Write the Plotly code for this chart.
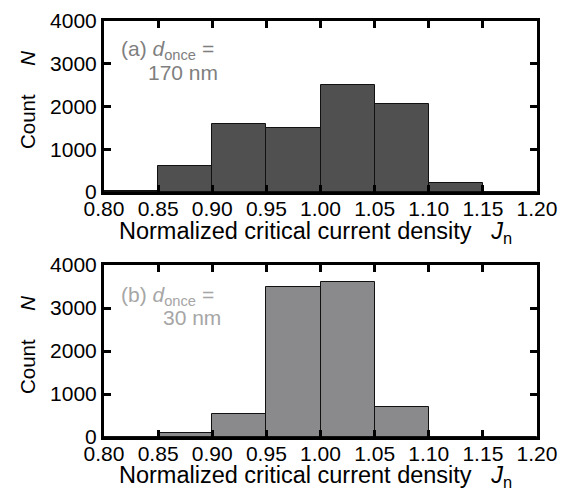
import plotly.graph_objects as go
from plotly.subplots import make_subplots

bin_edges = [0.80, 0.85, 0.90, 0.95, 1.00, 1.05, 1.10, 1.15, 1.20]
counts_a = [15, 620, 1600, 1490, 2500, 2070, 200, 0]
counts_b = [10, 100, 530, 3490, 3600, 700, 0, 0]
x_ticks = [0.80, 0.85, 0.90, 0.95, 1.00, 1.05, 1.10, 1.15, 1.20]
x_tick_labels = ["0.80", "0.85", "0.90", "0.95", "1.00", "1.05", "1.10", "1.15", "1.20"]
y_ticks = [0, 1000, 2000, 3000, 4000]
y_tick_labels = ["0", "1000", "2000", "3000", "4000"]

centers = [(a + b) / 2 for a, b in zip(bin_edges[:-1], bin_edges[1:])]
widths = [b - a for a, b in zip(bin_edges[:-1], bin_edges[1:])]

FONT = "Liberation Sans, Arial, sans-serif"
OFF = 8  # page body margin
W, H = 567 - OFF, 492 - OFF


def px(x):
    return (x - OFF) / W


def py(y):
    return 1 - (y - OFF) / H


fig = make_subplots(rows=2, cols=1)
fig.add_trace(go.Bar(x=centers, y=counts_a, width=widths, marker=dict(color="#505050", line=dict(color="#111111", width=1)), showlegend=False), row=1, col=1)
fig.add_trace(go.Bar(x=centers, y=counts_b, width=widths, marker=dict(color="#8a8a8c", line=dict(color="#111111", width=1)), showlegend=False), row=2, col=1)

xdom = [px(104), px(537)]
ydoms = [[py(192), py(21)], [py(437), py(265)]]

xtitle = "Normalized critical current density\u00a0\u00a0\u00a0<i>J</i><sub>n</sub>"
ytitle = "Count\u00a0\u00a0\u00a0\u00a0\u00a0<i>N</i>"

for i, name in enumerate(["", "2"]):
    fig.layout["xaxis" + name].update(
        domain=xdom, range=[0.8, 1.2], tickmode="array", tickvals=x_ticks, ticktext=x_tick_labels,
        showline=True, linecolor="black", linewidth=3, mirror="ticks",
        ticks="inside", ticklen=7, tickwidth=3, tickcolor="black",
        showgrid=False, zeroline=False, automargin=False, ticklabelstandoff=-4,
        tickfont=dict(family=FONT, size=21, color="black"),
    )
    fig.layout["yaxis" + name].update(
        domain=ydoms[i], range=[0, 4000], tickmode="array", tickvals=y_ticks, ticktext=y_tick_labels,
        showline=True, linecolor="black", linewidth=3, mirror="ticks",
        ticks="inside", ticklen=7, tickwidth=3, tickcolor="black",
        showgrid=False, zeroline=False, automargin=False,
        tickfont=dict(family=FONT, size=21, color="black"),
    )

# axis titles
for ty, yy in ((233, 100), (476, 345)):
    fig.add_annotation(text=xtitle, xref="paper", yref="paper", x=px(117), y=py(ty),
                       xanchor="left", yanchor="middle", showarrow=False,
                       font=dict(family=FONT, size=23.5, color="black"))
    fig.add_annotation(text=ytitle, xref="paper", yref="paper", x=px(27), y=py(yy),
                       xanchor="center", yanchor="middle", showarrow=False, textangle=-90,
                       font=dict(family=FONT, size=20.5, color="black"))

labels = [
    ("(a) <i>d</i><sub>once</sub> =", "170 nm", "#7f7f7f", 50, 72, 146),
    ("(b) <i>d</i><sub>once</sub> =", "30 nm", "#a6a6a6", 296, 317, 161),
]
for l1, l2, col, y1, y2, x2 in labels:
    fig.add_annotation(text=l1, xref="paper", yref="paper", x=px(119), y=py(y1),
                       xanchor="left", yanchor="middle", showarrow=False,
                       font=dict(family=FONT, size=21, color=col))
    fig.add_annotation(text=l2, xref="paper", yref="paper", x=px(x2), y=py(y2),
                       xanchor="left", yanchor="middle", showarrow=False,
                       font=dict(family=FONT, size=21, color=col))

fig.update_layout(width=W, height=H, margin=dict(l=0, r=0, t=0, b=0),
                  paper_bgcolor="white", plot_bgcolor="white", bargap=0,
                  font=dict(family=FONT, size=20, color="black"))

fig.write_html("out.html")
